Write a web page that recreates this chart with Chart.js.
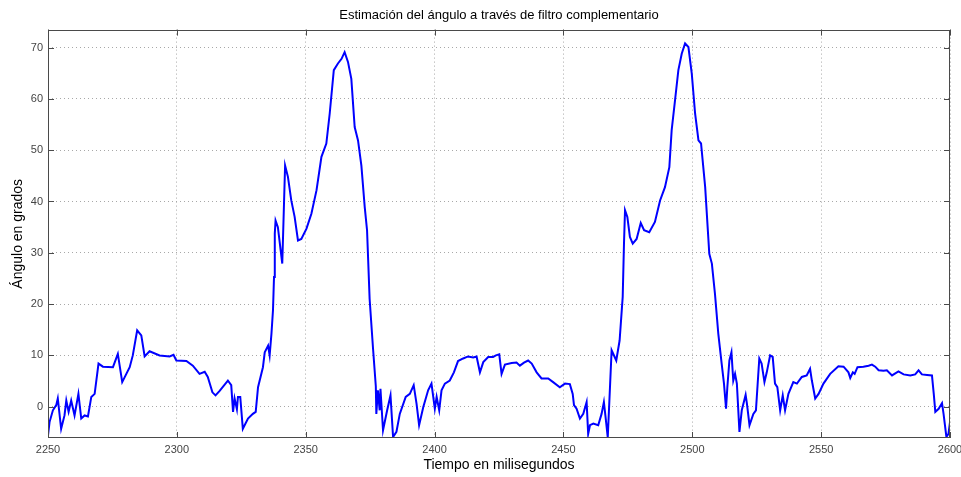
<!DOCTYPE html>
<html>
<head>
<meta charset="utf-8">
<script src="https://cdn.jsdelivr.net/npm/chart.js@4.4.1/dist/chart.umd.min.js"></script>
<style>
  body { margin: 0; background: #fff; }
  #wrap { width: 961px; height: 477px; }
</style>
</head>
<body>
<div id="wrap"><canvas id="angleChart" width="961" height="477"></canvas></div>
<script>
// Angle estimate (complementary filter)
const timeMs = [
  2250.0, 2250.6, 2251.9, 2253.2, 2253.8, 2255.1, 2256.4, 2257.1, 2258.0, 2259.0,
  2260.3, 2261.8, 2262.9, 2264.2, 2265.5, 2266.8, 2268.1, 2269.6, 2271.3, 2275.2,
  2277.1, 2278.8, 2281.7, 2282.9, 2284.6, 2286.2, 2287.5, 2289.4, 2293.3, 2297.2,
  2298.7, 2299.8, 2303.7, 2306.2, 2308.8, 2310.8, 2312.0, 2313.8, 2315.0, 2316.6,
  2319.8, 2321.1, 2321.8, 2322.4, 2323.3, 2323.7, 2324.6, 2325.6, 2327.6, 2329.5,
  2330.6, 2331.5, 2333.4, 2334.1, 2335.4, 2336.0, 2336.7, 2337.3, 2337.7, 2338.0,
  2338.3, 2339.2, 2340.9, 2341.5, 2342.0, 2343.1, 2344.4, 2345.7, 2347.0, 2348.3,
  2350.3, 2352.2, 2354.2, 2356.1, 2358.0, 2359.3, 2360.9, 2362.5, 2363.9, 2365.1,
  2366.4, 2367.7, 2369.0, 2370.3, 2371.6, 2372.9, 2373.8, 2374.8, 2376.1, 2377.2,
  2377.4, 2378.0, 2378.7, 2379.0, 2380.0, 2381.6, 2382.9, 2383.9, 2385.2, 2386.5,
  2388.8, 2390.4, 2391.9, 2393.0, 2394.0, 2395.6, 2397.5, 2398.8, 2400.1, 2400.8,
  2401.8, 2402.7, 2404.0, 2405.9, 2407.5, 2409.1, 2411.1, 2413.0, 2415.0, 2416.3,
  2417.6, 2418.9, 2420.8, 2422.7, 2423.8, 2425.1, 2426.0, 2427.3, 2429.9, 2431.8,
  2433.1, 2434.7, 2436.3, 2437.7, 2439.6, 2441.5, 2444.1, 2446.0, 2448.6, 2450.6,
  2452.5, 2453.6, 2454.1, 2455.1, 2456.4, 2457.7, 2459.0, 2459.6, 2460.3, 2461.6,
  2463.5, 2464.8, 2465.7, 2466.5, 2467.2, 2468.7, 2470.5, 2471.8, 2473.0, 2473.5,
  2473.9, 2474.8, 2475.8, 2476.9, 2478.4, 2480.0, 2481.3, 2483.3, 2485.5, 2487.5,
  2489.4, 2491.1, 2492.0, 2493.3, 2494.6, 2495.9, 2497.2, 2498.5, 2499.8, 2501.1,
  2502.4, 2503.4, 2505.0, 2506.6, 2507.6, 2508.8, 2510.1, 2511.4, 2512.3, 2513.1,
  2513.6, 2514.4, 2515.2, 2515.9, 2516.6, 2517.3, 2518.3, 2519.2, 2520.7, 2521.2,
  2522.2, 2523.7, 2524.7, 2526.0, 2526.9, 2528.0, 2528.9, 2530.2, 2531.2, 2532.1,
  2533.0, 2534.1, 2535.1, 2536.0, 2537.3, 2539.2, 2540.6, 2542.5, 2544.4, 2545.7,
  2546.4, 2547.7, 2549.0, 2550.9, 2553.5, 2556.7, 2558.7, 2560.6, 2561.3, 2562.3,
  2563.0, 2564.1, 2566.4, 2568.4, 2569.7, 2571.0, 2572.3, 2574.2, 2575.5, 2577.5,
  2580.0, 2582.0, 2584.6, 2586.5, 2587.8, 2589.1, 2591.1, 2593.0, 2593.7, 2594.3,
  2595.6, 2596.9, 2597.5, 2598.6, 2599.4, 2600.0
];
const angleDeg = [
  -5.6, -3.0, -0.7, 0.3, 1.6, -4.3, -1.7, 1.2, -1.0, 1.2,
  -1.7, 2.5, -2.3, -1.7, -1.9, 1.9, 2.5, 8.4, 7.8, 7.7,
  10.3, 4.8, 7.7, 10.0, 14.9, 13.9, 9.8, 10.8, 10.0, 9.8,
  10.1, 9.0, 8.9, 8.0, 6.4, 6.8, 5.8, 2.8, 2.2, 3.1,
  5.1, 4.2, -1.0, 1.6, -0.5, 1.9, 1.9, -4.3, -2.3, -1.4,
  -1.0, 3.8, 7.7, 10.6, 11.9, 10.0, 14.2, 18.8, 25.3, 33.7,
  36.3, 35.0, 27.9, 38.3, 47.0, 44.8, 40.2, 37.0, 32.4, 32.7,
  34.7, 37.6, 42.2, 48.7, 51.3, 57.1, 65.6, 66.9, 67.8, 69.1,
  67.2, 63.9, 54.5, 51.9, 47.0, 38.9, 34.4, 21.0, 11.5, 4.0,
  -1.4, 3.2, -0.7, 3.5, -4.6, -0.7, 2.2, -5.9, -4.9, -1.4,
  1.9, 2.5, 4.2, 0.6, -3.6, -0.1, 3.2, 4.5, -0.4, 1.9,
  -0.7, 3.2, 4.5, 5.1, 6.7, 8.9, 9.4, 9.8, 9.6, 9.8,
  6.7, 8.7, 9.7, 9.7, 10.0, 10.2, 6.4, 8.2, 8.5, 8.6,
  8.0, 8.6, 9.0, 8.4, 6.7, 5.5, 5.5, 4.8, 3.8, 4.5,
  4.4, 2.5, 0.3, -0.4, -2.3, -1.4, 0.9, -5.3, -3.6, -3.3,
  -3.6, -1.4, 0.9, -2.7, -6.0, 11.0, 9.0, 12.9, 21.4, 31.8,
  38.3, 37.0, 33.1, 31.8, 32.7, 35.8, 34.4, 34.0, 36.0, 40.2,
  42.8, 46.7, 53.9, 59.7, 65.6, 68.8, 70.8, 70.1, 64.9, 57.1,
  51.9, 51.3, 42.8, 29.8, 27.9, 22.0, 14.2, 8.4, 4.5, -0.4,
  3.8, 9.0, 10.6, 5.1, 6.4, 4.5, -4.9, -0.7, 2.3, 0.6,
  -3.6, -1.4, -0.7, 9.4, 8.4, 4.8, 6.7, 10.0, 9.7, 4.5,
  3.8, -0.7, 2.2, -0.7, 2.5, 4.8, 4.5, 5.8, 6.1, 7.4,
  5.1, 1.6, 2.5, 4.5, 6.4, 7.9, 7.8, 6.7, 5.6, 6.7,
  6.4, 7.7, 7.8, 8.0, 8.2, 7.8, 7.1, 7.0, 7.1, 6.1,
  6.9, 6.3, 6.1, 6.3, 7.1, 6.3, 6.2, 6.1, 2.5, -1.0,
  -0.4, 0.7, -1.4, -5.9, -5.3, -3.0
];
const xTicks = [2250, 2300, 2350, 2400, 2450, 2500, 2550, 2600];
const yTicks = [0, 10, 20, 30, 40, 50, 60, 70];

const FONT = "'Liberation Sans', Arial, sans-serif";

// MATLAB-style box with ticks pointing inwards on all four sides
const axesBox = {
    id: 'axesBox',
    afterDraw(chart) {
        const { ctx, chartArea: a, scales } = chart;
        const len = 6;
        ctx.save();
        ctx.strokeStyle = '#4a4a4a';
        ctx.lineWidth = 1;
        ctx.strokeRect(Math.round(a.left) + 0.5, Math.round(a.top) + 0.5,
                       Math.round(a.width) - 1, Math.round(a.height) - 1);
        ctx.beginPath();
        scales.x.ticks.forEach(t => {
            const px = Math.round(scales.x.getPixelForValue(t.value)) + 0.5;
            ctx.moveTo(px, a.bottom); ctx.lineTo(px, a.bottom - len);
            ctx.moveTo(px, a.top); ctx.lineTo(px, a.top + len);
        });
        scales.y.ticks.forEach(t => {
            const py = Math.round(scales.y.getPixelForValue(t.value)) + 0.5;
            ctx.moveTo(a.left, py); ctx.lineTo(a.left + len, py);
            ctx.moveTo(a.right, py); ctx.lineTo(a.right - len, py);
        });
        ctx.stroke();
        ctx.restore();
    }
};

const gridStyle = {
    color: '#a8a8a8',
    lineWidth: 1,
    drawTicks: false
};

const ctx = document.getElementById('angleChart').getContext('2d');
new Chart(ctx, {
    type: 'line',
    data: {
        datasets: [{
            data: timeMs.map((t, i) => ({ x: t, y: angleDeg[i] })),
            borderColor: '#0000ff',
            borderWidth: 2,
            pointRadius: 0,
            tension: 0,
            fill: false
        }]
    },
    options: {
        responsive: false,
        animation: false,
        layout: { padding: { left: 0, right: 11, top: 0, bottom: 0 } },
        plugins: {
            legend: { display: false },
            tooltip: { enabled: false },
            title: {
                display: true,
                fullSize: false,
                text: 'Estimación del ángulo a través de filtro complementario',
                color: '#000',
                font: { family: FONT, size: 13, weight: 'normal' },
                padding: { top: 8, bottom: 6 }
            }
        },
        scales: {
            x: {
                type: 'linear',
                min: 2250,
                max: 2600,
                afterBuildTicks: s => { s.ticks = xTicks.map(v => ({ value: v })); },
                afterFit: s => { s.height = 39; s.paddingLeft = 0; s.paddingRight = 0; },
                grid: { ...gridStyle },
                border: { display: false, dash: [1, 3] },
                ticks: {
                    color: '#444',
                    padding: 5,
                    maxRotation: 0,
                    font: { family: FONT, size: 11 },
                    callback: v => String(v)
                },
                title: {
                    display: true,
                    text: 'Tiempo en milisegundos',
                    color: '#000',
                    font: { family: FONT, size: 14 },
                    padding: { top: 0, bottom: 3 }
                }
            },
            y: {
                min: -6.1,
                max: 73.5,
                afterBuildTicks: s => { s.ticks = yTicks.map(v => ({ value: v })); },
                afterFit: s => { s.width = 48; },
                grid: { ...gridStyle },
                border: { display: false, dash: [1, 3] },
                ticks: {
                    color: '#444',
                    padding: 5,
                    font: { family: FONT, size: 11 },
                    callback: v => String(v)
                },
                title: {
                    display: true,
                    text: 'Ángulo en grados',
                    color: '#000',
                    font: { family: FONT, size: 14 },
                    padding: { top: 10, bottom: 0 }
                }
            }
        }
    },
    plugins: [axesBox]
});
</script>
</body>
</html>
